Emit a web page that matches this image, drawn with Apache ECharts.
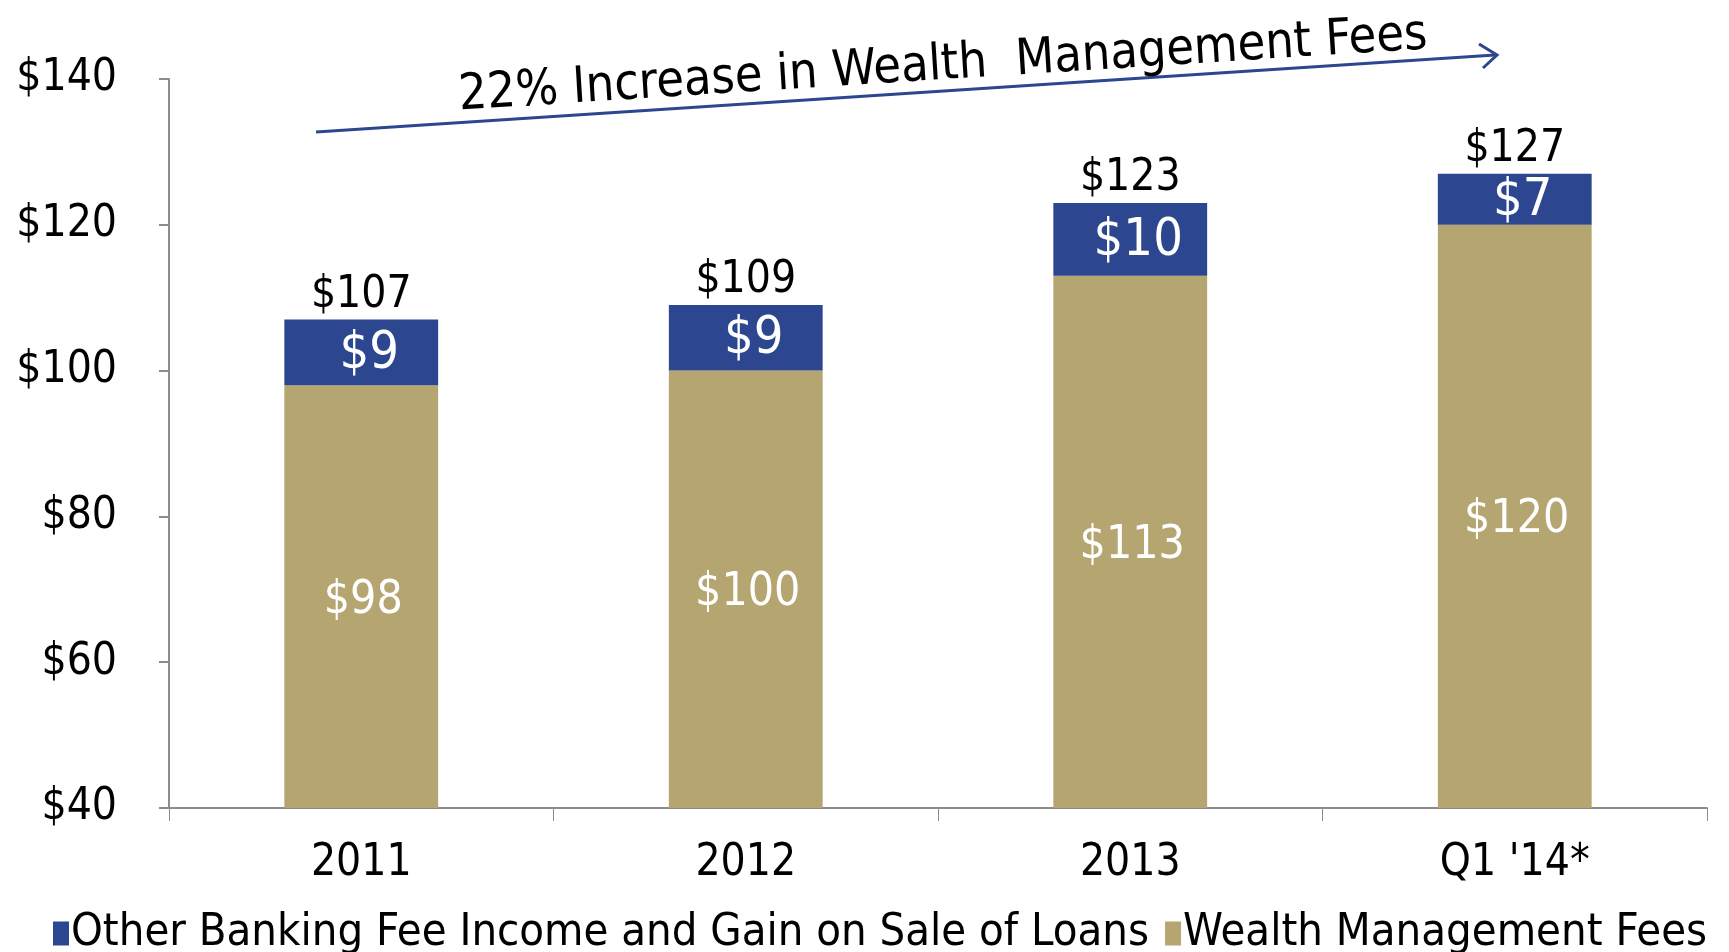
<!DOCTYPE html>
<html>
<head>
<meta charset="utf-8">
<script src="https://cdn.jsdelivr.net/npm/echarts@6/dist/echarts.min.js"></script>
<style>
  html, body { margin: 0; padding: 0; background: #fff; }
  #main { width: 1729px; height: 952px; }
</style>
</head>
<body>
<div id="main"></div>
<script>
// data
const categories = ['2011', '2012', '2013', "Q1 '14*"]
const wealthFees = [98, 100, 113, 120]
const otherFees = [9, 9, 10, 7]
const totals = [107, 109, 123, 127]
const yTicks = { min: 40, max: 140, interval: 20 }

const FONT = '"Liberation Sans Narrow", "DejaVu Sans Condensed", sans-serif'
const BLUE = '#2C468F'
const GOLD = '#B5A570'
const AXIS = '#8c8c8c'

const chart = echarts.init(document.getElementById('main'))
const option = {
  backgroundColor: '#fff',
  textStyle: { fontFamily: FONT },
  animation: false,
  grid: { left: 169, right: 22, top: 79, bottom: 144 },
  legend: {
    left: 48,
    top: 906,
    icon: 'rect',
    itemWidth: 16,
    itemHeight: 24,
    itemGap: 16,
    data: ['Other Banking Fee Income and Gain on Sale of Loans', 'Wealth Management Fees'],
    textStyle: { fontFamily: FONT, fontSize: 45, color: '#000', padding: [0, 0, 0, -3] },
  },
  xAxis: {
    type: 'category',
    data: categories,
    axisLine: { lineStyle: { color: AXIS, width: 2 } },
    axisTick: { show: true, length: 13, lineStyle: { color: AXIS } },
    axisLabel: { color: '#000', fontSize: 44, margin: 34, fontFamily: FONT },
  },
  yAxis: {
    type: 'value',
    min: yTicks.min,
    max: yTicks.max,
    interval: yTicks.interval,
    axisLine: { show: true, lineStyle: { color: AXIS, width: 2 } },
    axisTick: { show: true, length: 10, lineStyle: { color: AXIS, width: 2 } },
    splitLine: { show: false },
    axisLabel: {
      color: '#000',
      fontSize: 44,
      margin: 52,
      fontFamily: FONT,
      formatter: (v) => '$' + v,
    },
  },
  series: [
    {
      name: 'Wealth Management Fees',
      type: 'bar',
      stack: 'fees',
      barWidth: '40%',
      itemStyle: { color: GOLD },
      label: {
        show: true,
        position: 'inside',
        offset: [2, 4],
        color: '#fff',
        fontSize: 46,
        fontFamily: FONT,
        formatter: (p) => '$' + p.value,
      },
      data: wealthFees,
    },
    {
      name: 'Other Banking Fee Income and Gain on Sale of Loans',
      type: 'bar',
      stack: 'fees',
      itemStyle: { color: BLUE },
      label: {
        show: true,
        position: 'inside',
        offset: [8, 2],
        color: '#fff',
        fontSize: 52,
        fontFamily: FONT,
        formatter: (p) => '$' + p.value,
      },
      data: otherFees,
    },
    {
      // invisible carrier for the total labels above each bar
      name: 'Total',
      type: 'line',
      symbol: 'circle',
      symbolSize: 1,
      showSymbol: true,
      silent: true,
      itemStyle: { color: 'rgba(0,0,0,0)' },
      lineStyle: { width: 0, color: 'rgba(0,0,0,0)' },
      label: {
        show: true,
        position: 'top',
        distance: 2,
        color: '#000',
        fontSize: 44,
        fontFamily: FONT,
        formatter: (p) => '$' + p.value,
      },
      data: totals,
    },
  ],
  graphic: [
    {
      type: 'line',
      shape: { x1: 316, y1: 132, x2: 1495, y2: 55 },
      style: { stroke: BLUE, lineWidth: 3 },
    },
    {
      type: 'polyline',
      shape: { points: [[1479, 44], [1497, 55], [1483, 68]] },
      style: { stroke: BLUE, lineWidth: 3, fill: null },
    },
    {
      type: 'text',
      x: 943,
      y: 66,
      rotation: 0.063,
      style: {
        text: '22% Increase in Wealth  Management Fees',
        fontFamily: FONT,
        fontSize: 50,
        fill: '#000',
        align: 'center',
        verticalAlign: 'middle',
      },
    },
  ],
}
chart.setOption(option)
</script>
</body>
</html>
